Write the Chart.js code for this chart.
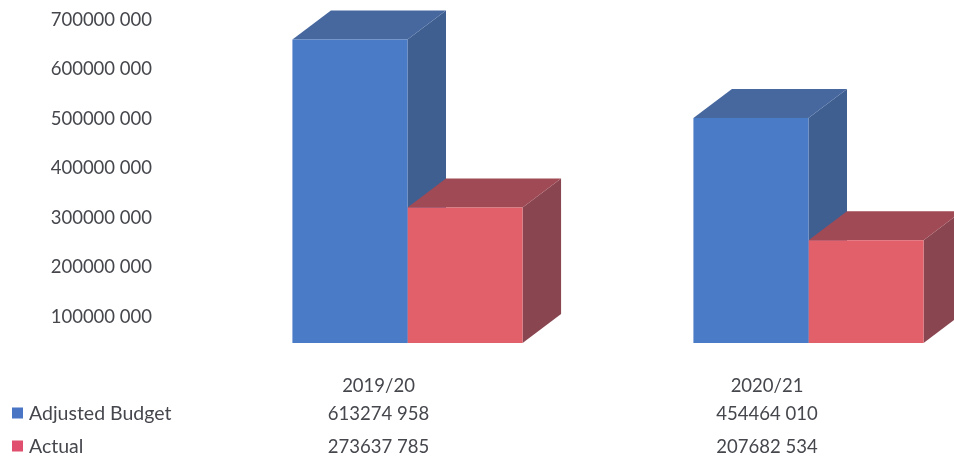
<!DOCTYPE html>
<html><head><meta charset="utf-8">
<style>html,body{margin:0;padding:0;background:#fff;overflow:hidden}#w{width:954px;height:461px;position:relative}canvas{filter:blur(0.45px)}</style>
<script src="https://cdn.jsdelivr.net/npm/chart.js@4/dist/chart.umd.min.js"></script>
</head><body><div id="w"><canvas id="c"></canvas></div>
<script>
const categories = ["2019/20", "2020/21"];
const adjustedBudget = [613274958, 454464010];
const actual = [273637785, 207682534];
const yTicks = [100000000, 200000000, 300000000, 400000000, 500000000, 600000000, 700000000];

const FAMILY = 'Lato, "Open Sans", sans-serif';
const TEXT = '#45474d';
const fmt = v => { const s = String(v); return s.slice(0, -3) + ' ' + s.slice(-3); };

// The picture's axis sits lower and to the left of the front plane of the bars.
const SHIFT_X = 55, SHIFT_Y = -23.5;
const DEPTH_X = 38.5, DEPTH_Y = -29;

const shades = [
  { side: '#3f5f91', top: '#47689f' },
  { side: '#8a4650', top: '#a04a55' }
];
const tableCentres = [378.5, 767];
const rowBaselines = { head: 392, rows: [420, 453] };

const bars3d = {
  id: 'bars3d',
  beforeDatasetsDraw(chart) {
    const ctx = chart.ctx;
    ctx.save();
    ctx.translate(SHIFT_X, SHIFT_Y);
    // Side and top faces go first, budget under actual; the library then draws the fronts.
    chart.data.datasets.forEach((d, i) => {
      const s = shades[i];
      chart.getDatasetMeta(i).data.forEach(b => {
        const l = b.x - b.width / 2, r = b.x + b.width / 2, t = b.y, bot = b.base;
        ctx.fillStyle = s.side;
        ctx.beginPath();
        ctx.moveTo(r, t); ctx.lineTo(r + DEPTH_X, t + DEPTH_Y);
        ctx.lineTo(r + DEPTH_X, bot + DEPTH_Y); ctx.lineTo(r, bot);
        ctx.closePath(); ctx.fill();
        ctx.fillStyle = s.top;
        ctx.beginPath();
        ctx.moveTo(l, t); ctx.lineTo(l + DEPTH_X, t + DEPTH_Y);
        ctx.lineTo(r + DEPTH_X, t + DEPTH_Y); ctx.lineTo(r, t);
        ctx.closePath(); ctx.fill();
      });
    });
  },
  afterDatasetsDraw(chart) {
    chart.ctx.restore();
  },
  afterDraw(chart) {
    const ctx = chart.ctx;
    ctx.save();
    ctx.font = '18.5px ' + FAMILY;
    ctx.fillStyle = TEXT;
    ctx.textBaseline = 'alphabetic';
    ctx.textAlign = 'center';
    categories.forEach((c, i) => {
      ctx.fillText(c, tableCentres[i], rowBaselines.head);
      chart.data.datasets.forEach((d, k) => {
        ctx.fillText(fmt(d.data[i]), tableCentres[i], rowBaselines.rows[k]);
      });
    });
    ctx.textAlign = 'left';
    ctx.font = '19.5px ' + FAMILY;
    chart.data.datasets.forEach((d, k) => {
      const y = rowBaselines.rows[k];
      ctx.fillStyle = d.keyColor;
      ctx.fillRect(12, y - 12.5, 11, 11);
      ctx.fillStyle = TEXT;
      ctx.fillText(d.label, 29, y);
    });
    ctx.restore();
  }
};

new Chart(document.getElementById('c'), {
  type: 'bar',
  data: {
    labels: categories,
    datasets: [
      { label: 'Adjusted Budget', data: adjustedBudget, backgroundColor: '#4a7bc6', keyColor: '#4a74c4', clip: false },
      { label: 'Actual', data: actual, backgroundColor: '#e2606a', keyColor: '#e0506e', clip: false }
    ]
  },
  options: {
    responsive: true,
    maintainAspectRatio: false,
    animation: false,
    layout: { padding: { top: 20, bottom: 94.5, left: 0, right: 0 } },
    datasets: { bar: { categoryPercentage: 0.574, barPercentage: 1, borderWidth: 0 } },
    plugins: { legend: { display: false }, tooltip: { enabled: false } },
    scales: {
      x: { display: false, grid: { display: false } },
      y: {
        min: 0, max: 700000000,
        afterFit(s) { s.width = 152; },
        afterBuildTicks(s) { s.ticks = yTicks.map(v => ({ value: v })); },
        grid: { display: false, drawTicks: false },
        border: { display: false },
        ticks: {
          padding: 0,
          color: TEXT,
          font: { family: FAMILY, size: 18.5 },
          callback: v => fmt(v)
        }
      }
    }
  },
  plugins: [bars3d]
});
</script></body></html>
